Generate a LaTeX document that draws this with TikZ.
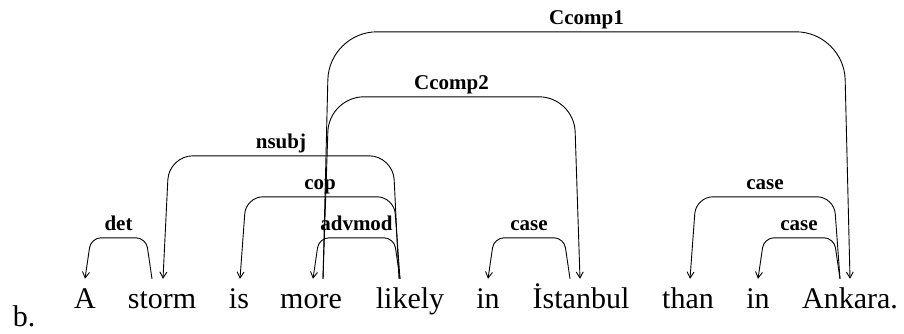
\documentclass[tikz,border=0pt]{standalone}
\usepackage{fontspec}
\setmainfont{Liberation Serif}
\usetikzlibrary{arrows.meta}
\begin{document}
\begin{tikzpicture}[x=1pt,y=1pt,
  word/.style={anchor=base,inner sep=0pt,text height=29pt,font=\fontsize{30}{36}\selectfont},
  dep/.style={line width=0.9pt,-{Straight Barb[length=6pt,width=7pt]}},
  lbl/.style={anchor=base,yshift=7.5pt,inner sep=0pt,font=\bfseries\fontsize{21}{25}\selectfont}]
\useasboundingbox (0,0) rectangle (904,333);
\node[anchor=base,font=\fontsize{30}{36}\selectfont] (ex) at (24,7) {b.};
\node[word] (w1) at (85,25) {A};
\node[word] (w2) at (162,25) {storm};
\node[word] (w3) at (239,25) {is};
\node[word] (w4) at (311,25) {more};
\node[word] (w5) at (410,25) {likely};
\node[word] (w6) at (488,25) {in};
\node[word] (w7) at (581,25) {İstanbul};
\node[word] (w8) at (688,25) {than};
\node[word] (w9) at (758,25) {in};
\node[word] (w10) at (850,25) {Ankara.};

\draw[dep,rounded corners=10pt] ([xshift=-10pt]w2.north) -- ++(-6,41) -- node[lbl]{det} ([shift={(6,41)}]w1.north) -- (w1.north);
\draw[dep,rounded corners=24pt] ([xshift=-11pt]w5.north) -- ++(-6,123) -- node[lbl]{nsubj} ([shift={(7,123)}]w2.north) -- ([xshift=1pt]w2.north);
\draw[dep,rounded corners=17pt] ([xshift=-10pt]w5.north) -- ++(-6,82) -- node[lbl]{cop} ([shift={(7,82)}]w3.north) -- ([xshift=1pt]w3.north);
\draw[dep,rounded corners=10pt] ([xshift=-10pt]w5.north) -- ++(-6,41) -- node[lbl]{advmod} ([shift={(8,41)}]w4.north) -- ([xshift=2pt]w4.north);
\draw[dep,rounded corners=10pt] ([xshift=-11pt]w7.north) -- ++(-6,41) -- node[lbl]{case} ([shift={(6,41)}]w6.north) -- (w6.north);
\draw[dep,rounded corners=35pt] ([xshift=12pt]w4.north) -- ++(6,182) -- node[lbl]{Ccomp2} ([shift={(-7,182)}]w7.north) -- ([xshift=-1pt]w7.north);
\draw[dep,rounded corners=48pt] ([xshift=12pt]w4.north) -- ++(6,247) -- node[lbl]{Ccomp1} ([shift={(-6,247)}]w10.north) -- (w10.north);
\draw[dep,rounded corners=17pt] ([xshift=-10pt]w10.north) -- ++(-6,82) -- node[lbl]{case} ([shift={(8,82)}]w8.north) -- ([xshift=2pt]w8.north);
\draw[dep,rounded corners=10pt] ([xshift=-10pt]w10.north) -- ++(-6,41) -- node[lbl]{case} ([shift={(6,41)}]w9.north) -- (w9.north);
\end{tikzpicture}
\end{document}
